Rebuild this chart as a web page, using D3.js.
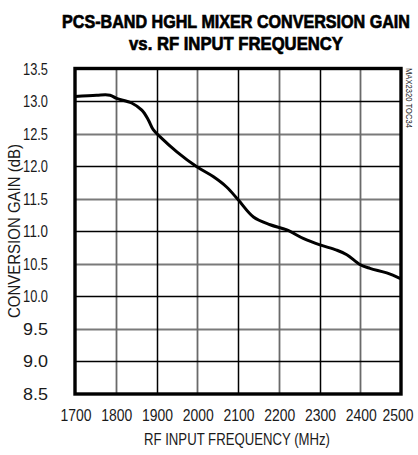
<!DOCTYPE html>
<html><head><meta charset="utf-8">
<script src="https://cdn.jsdelivr.net/npm/d3@7"></script>
<style>body{margin:0;background:#fff}svg{display:block}text{font-family:"Liberation Sans",Arial,Helvetica,sans-serif}</style>
</head><body>
<svg id="c" width="418" height="455" xmlns="http://www.w3.org/2000/svg"></svg>
<script>
const freq = [1700,1753,1786,1802,1839,1864,1880,1892,1909,1950,1999,2039,2072,2101,2138,2179,2220,2260,2301,2342,2367,2399,2424,2465,2500];
const gain = [13.07,13.09,13.09,13.04,12.97,12.86,12.71,12.56,12.45,12.22,11.99,11.84,11.68,11.48,11.22,11.1,11.02,10.89,10.79,10.71,10.64,10.49,10.43,10.36,10.27];
const xTicks = [1700,1800,1900,2000,2100,2200,2300,2400,2500];
const yTicks = [8.5,9.0,9.5,10.0,10.5,11.0,11.5,12.0,12.5,13.0,13.5];
const titleLines = ["PCS-BAND HGHL MIXER CONVERSION GAIN","vs. RF INPUT FREQUENCY"];
const xTitle = "RF INPUT FREQUENCY (MHz)";
const yTitle = "CONVERSION GAIN (dB)";
const sideNote = "MAX2320 TOC34";

const svg = d3.select("#c");
const L=75, R=401, T=68.5, B=394;
const x = d3.scaleLinear().domain([1700,2500]).range([L,R]);
const y = d3.scaleLinear().domain([8.5,13.5]).range([B,T]);

// gridlines built from the scales
const hPath = d3.path(), hPathMinor = d3.path();
yTicks.slice(1,-1).forEach(v=>{
  const major = Math.abs(v-Math.round(v))<0.01;
  const p = major?hPath:hPathMinor;
  const yy = Math.round(y(v))+0.5;
  p.moveTo(L,yy); p.lineTo(R,yy);
});
const vPath = d3.path(), vPathMinor = d3.path();
xTicks.slice(1,-1).forEach(v=>{
  const dark = ((v/100)%2)===1;
  const p = dark?vPath:vPathMinor;
  const xx = Math.round(x(v))+0.5;
  p.moveTo(xx,T); p.lineTo(xx,B);
});
svg.append("path").attr("d",hPathMinor.toString()).attr("fill","none").attr("stroke","#7a7a7a").attr("stroke-width",2.2);
svg.append("path").attr("d",vPathMinor.toString()).attr("fill","none").attr("stroke","#6a6a6a").attr("stroke-width",1.8);
svg.append("path").attr("d",hPath.toString()).attr("fill","none").attr("stroke","#000").attr("stroke-width",1.5);
svg.append("path").attr("d",vPath.toString()).attr("fill","none").attr("stroke","#000").attr("stroke-width",1.5);

// curve
svg.append("path").datum(freq.map((f,i)=>[f,gain[i]]))
  .attr("fill","none").attr("stroke","#000").attr("stroke-width",3).attr("stroke-linejoin","round")
  .attr("d",d3.line().x(d=>x(d[0])).y(d=>y(d[1])).curve(d3.curveCatmullRom));

// frame
svg.append("rect").attr("x",L).attr("y",T).attr("width",R-L).attr("height",B-T)
  .attr("fill","none").attr("stroke","#000").attr("stroke-width",3.4);

// tick labels
svg.append("g").selectAll("text").data(yTicks).join("text")
  .attr("x",48).attr("y",d=>y(d)+6).attr("text-anchor","end").attr("font-size",16.5).attr("fill","#1a1a1a")
  .attr("textLength",25).attr("lengthAdjust","spacingAndGlyphs")
  .text(d=>d.toFixed(1));
svg.append("g").selectAll("text").data(xTicks).join("text")
  .attr("x",d=>Math.min(x(d)+1,398)).attr("y",421).attr("text-anchor","middle").attr("font-size",16.5).attr("fill","#1a1a1a")
  .attr("textLength",31).attr("lengthAdjust","spacingAndGlyphs")
  .text(d=>d);
svg.append("text").attr("x",237).attr("y",445).attr("text-anchor","middle").attr("font-size",16.5).attr("fill","#1a1a1a")
  .attr("textLength",186).attr("lengthAdjust","spacingAndGlyphs").text(xTitle);
svg.append("text").attr("transform","translate(20,231) rotate(-90)").attr("text-anchor","middle").attr("font-size",16.5).attr("fill","#1a1a1a")
  .attr("textLength",174).attr("lengthAdjust","spacingAndGlyphs").text(yTitle);

// title: condensed by a horizontal scale so its box matches what is seen
const tl = [348,214];
titleLines.forEach((s,i)=>{
  const g = svg.append("g");
  const t = g.append("text").attr("x",0).attr("y",0).attr("text-anchor","middle").attr("font-size",19)
    .attr("font-weight","bold").attr("fill","#000").attr("stroke","#000").attr("stroke-width",0.7).text(s);
  const w = t.node().getComputedTextLength() || tl[i];
  g.attr("transform",`translate(236,${28+i*22}) scale(${tl[i]/w},1)`);
});

// side note
svg.append("text").attr("transform","translate(406,68) rotate(90)").attr("font-size",9.5).attr("fill","#222")
  .attr("textLength",60).attr("lengthAdjust","spacingAndGlyphs").text(sideNote);
</script>
</body></html>
